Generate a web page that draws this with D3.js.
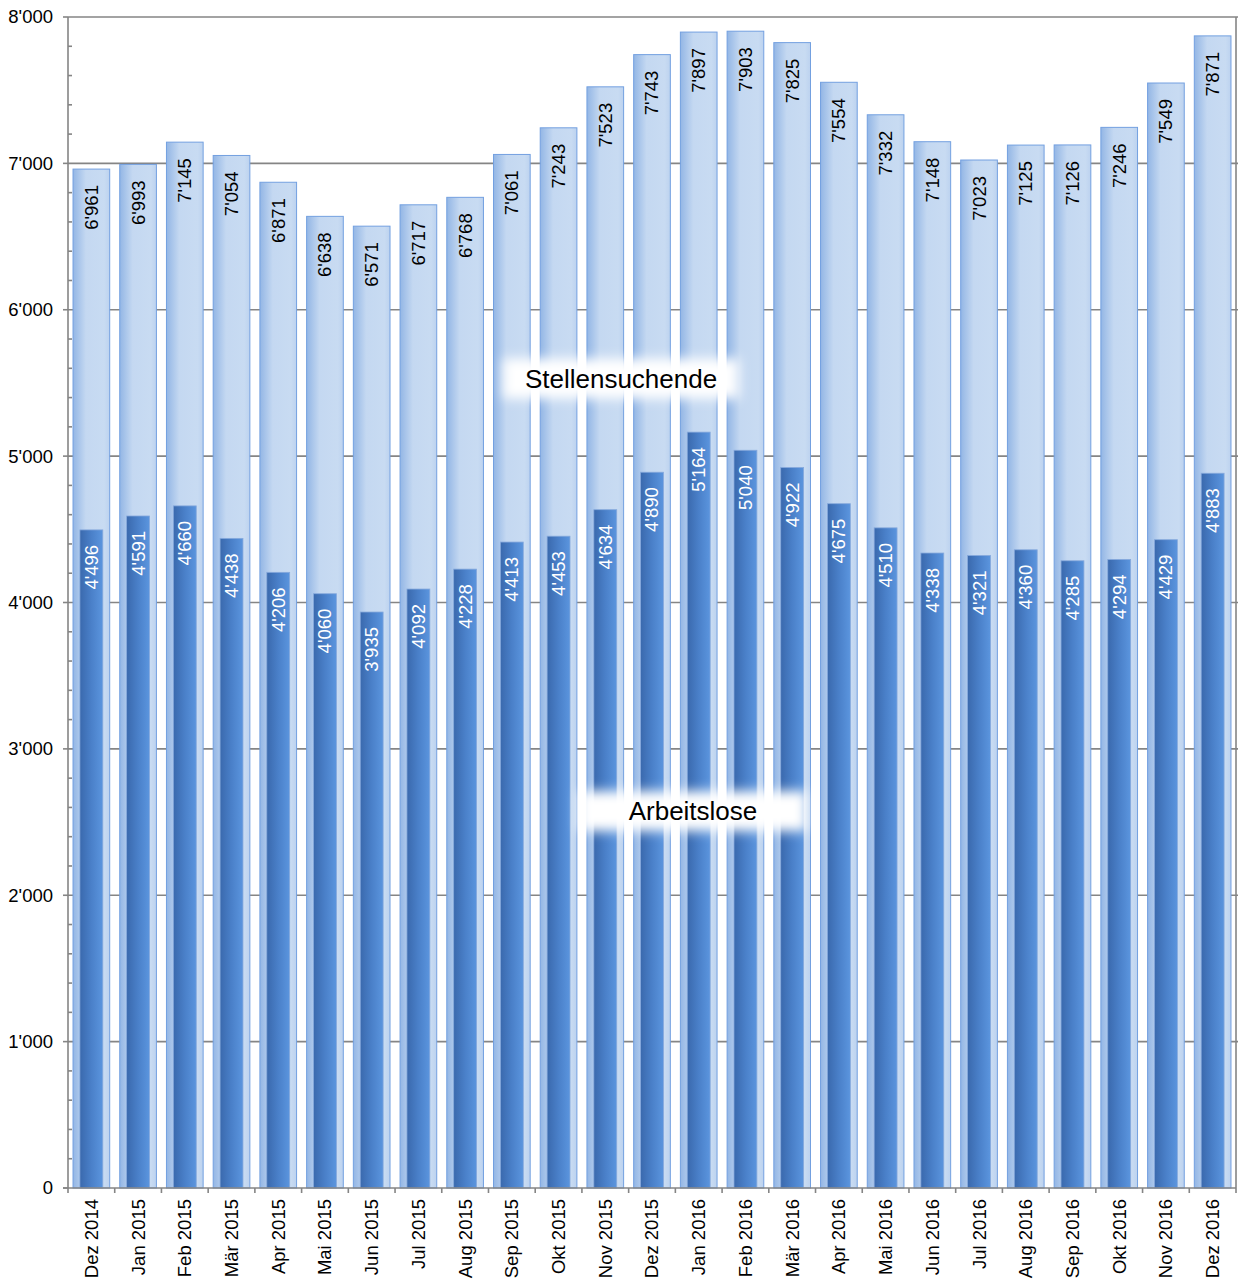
<!DOCTYPE html>
<html><head><meta charset="utf-8">
<script src="https://cdn.jsdelivr.net/npm/d3@7"></script>
<style>body{margin:0;background:#fff}svg{display:block;font-family:"Liberation Sans",Arial,sans-serif}</style>
</head><body>
<script>
const categories = ["Dez 2014","Jan 2015","Feb 2015","Mär 2015","Apr 2015","Mai 2015","Jun 2015","Jul 2015","Aug 2015","Sep 2015","Okt 2015","Nov 2015","Dez 2015","Jan 2016","Feb 2016","Mär 2016","Apr 2016","Mai 2016","Jun 2016","Jul 2016","Aug 2016","Sep 2016","Okt 2016","Nov 2016","Dez 2016"];
const stellensuchende = [6961,6993,7145,7054,6871,6638,6571,6717,6768,7061,7243,7523,7743,7897,7903,7825,7554,7332,7148,7023,7125,7126,7246,7549,7871];
const arbeitslose = [4496,4591,4660,4438,4206,4060,3935,4092,4228,4413,4453,4634,4890,5164,5040,4922,4675,4510,4338,4321,4360,4285,4294,4429,4883];
const yTicks = [0,1000,2000,3000,4000,5000,6000,7000,8000];
const seriesNames = ["Stellensuchende","Arbeitslose"];

const W = 1238, H = 1281;
const L = 68, R = 1236, T = 17, B = 1188;
const FS = 18.5;
const fmt = n => n < 1000 ? String(n) : Math.floor(n/1000) + "'" + String(n%1000).padStart(3,"0");

const svg = d3.select("body").append("svg").attr("width", W).attr("height", H);
const defs = svg.append("defs");
const g1 = defs.append("linearGradient").attr("id","gOuter").attr("x1","0").attr("x2","1").attr("y1","0").attr("y2","0");
[[0,"#93b6e5"],[0.35,"#c4d8f1"],[0.85,"#c8dbf2"],[1,"#bcd2ef"]].forEach(([o,c])=>g1.append("stop").attr("offset",o).attr("stop-color",c));
const g2 = defs.append("linearGradient").attr("id","gInner").attr("x1","0").attr("x2","1").attr("y1","0").attr("y2","0");
[[0,"#3a69ad"],[0.5,"#4a80c9"],[1,"#5b95de"]].forEach(([o,c])=>g2.append("stop").attr("offset",o).attr("stop-color",c));
defs.append("filter").attr("id","blur").attr("x","-20%").attr("y","-50%").attr("width","140%").attr("height","200%")
  .append("feGaussianBlur").attr("stdDeviation",6);

const x = d3.scaleBand().domain(categories).range([L, R]).paddingInner(0).paddingOuter(0);
const y = d3.scaleLinear().domain([0, 8000]).range([B, T]);
const bw = x.bandwidth();
const outerW = bw * 0.785, innerW = bw * 0.49;

// gridlines
svg.append("g").selectAll("line").data(yTicks.filter(v=>v>0)).join("line")
  .attr("x1", L).attr("x2", R+2).attr("y1", d=>y(d)).attr("y2", d=>y(d))
  .attr("stroke","#858585").attr("stroke-width",1.6);

// outer bars
svg.append("g").selectAll("rect").data(stellensuchende).join("rect")
  .attr("x",(d,i)=>x(categories[i]) + (bw-outerW)/2).attr("width",outerW)
  .attr("y",d=>y(d)).attr("height",d=>B-y(d))
  .attr("fill","url(#gOuter)").attr("stroke","#73a0e0").attr("stroke-width",1);
// inner bars
svg.append("g").selectAll("rect").data(arbeitslose).join("rect")
  .attr("x",(d,i)=>x(categories[i]) + (bw-innerW)/2).attr("width",innerW)
  .attr("y",d=>y(d)).attr("height",d=>B-y(d))
  .attr("fill","url(#gInner)").attr("stroke","#86a9dc").attr("stroke-width",0.8);

// value labels
svg.append("g").selectAll("text").data(stellensuchende).join("text")
  .attr("transform",(d,i)=>`translate(${x(categories[i])+bw/2},${y(d)+16}) rotate(-90)`)
  .attr("text-anchor","end").attr("dy","0.35em").attr("font-size",FS).attr("fill","#000")
  .text(d=>fmt(d));
svg.append("g").selectAll("text").data(arbeitslose).join("text")
  .attr("transform",(d,i)=>`translate(${x(categories[i])+bw/2},${y(d)+15}) rotate(-90)`)
  .attr("text-anchor","end").attr("dy","0.35em").attr("font-size",FS).attr("fill","#fff")
  .text(d=>fmt(d));

// axes
const ax = svg.append("g").attr("stroke","#858585").attr("stroke-width",1.6);
ax.append("line").attr("x1",L).attr("x2",L).attr("y1",T).attr("y2",B);
ax.append("line").attr("x1",R).attr("x2",R).attr("y1",T).attr("y2",B+5);
ax.append("line").attr("x1",L-5).attr("x2",R).attr("y1",B).attr("y2",B);
ax.selectAll(".maj").data(yTicks).join("line").attr("x1",L-5).attr("x2",L).attr("y1",d=>y(d)).attr("y2",d=>y(d));
ax.selectAll(".min").data(d3.range(0,8000,200).filter(v=>v%1000!==0)).join("line")
  .attr("x1",L).attr("x2",L+4).attr("y1",d=>y(d)).attr("y2",d=>y(d));
ax.selectAll(".xt").data(categories).join("line")
  .attr("x1",d=>x(d)).attr("x2",d=>x(d)).attr("y1",B).attr("y2",B+5);

svg.append("g").selectAll("text").data(yTicks).join("text")
  .attr("x",L-15).attr("y",d=>y(d)).attr("dy","0.35em").attr("text-anchor","end")
  .attr("font-size",FS).text(d=>fmt(d));

svg.append("g").selectAll("text").data(categories).join("text")
  .attr("transform",d=>`translate(${x(d)+bw/2},${B+11}) rotate(-90)`)
  .attr("text-anchor","end").attr("dy","0.35em").attr("font-size",FS).text(d=>d);

// series labels
const lab = [
  {name: seriesNames[0], cx: L + (R-L)*0.4735, cy: y(5530), w: 236, h: 40},
  {name: seriesNames[1], cx: L + (R-L)*0.5351, cy: y(2575), w: 228, h: 40}
];
const lg = svg.append("g").selectAll("g").data(lab).join("g");
lg.append("rect").attr("x",d=>d.cx-d.w/2).attr("y",d=>d.cy-d.h/2).attr("width",d=>d.w).attr("height",d=>d.h)
  .attr("fill","#fff").attr("filter","url(#blur)");
lg.append("text").attr("x",d=>d.cx).attr("y",d=>d.cy).attr("dy","0.35em").attr("text-anchor","middle")
  .attr("font-size",26).attr("fill","#000").text(d=>d.name);
</script>
</body></html>
